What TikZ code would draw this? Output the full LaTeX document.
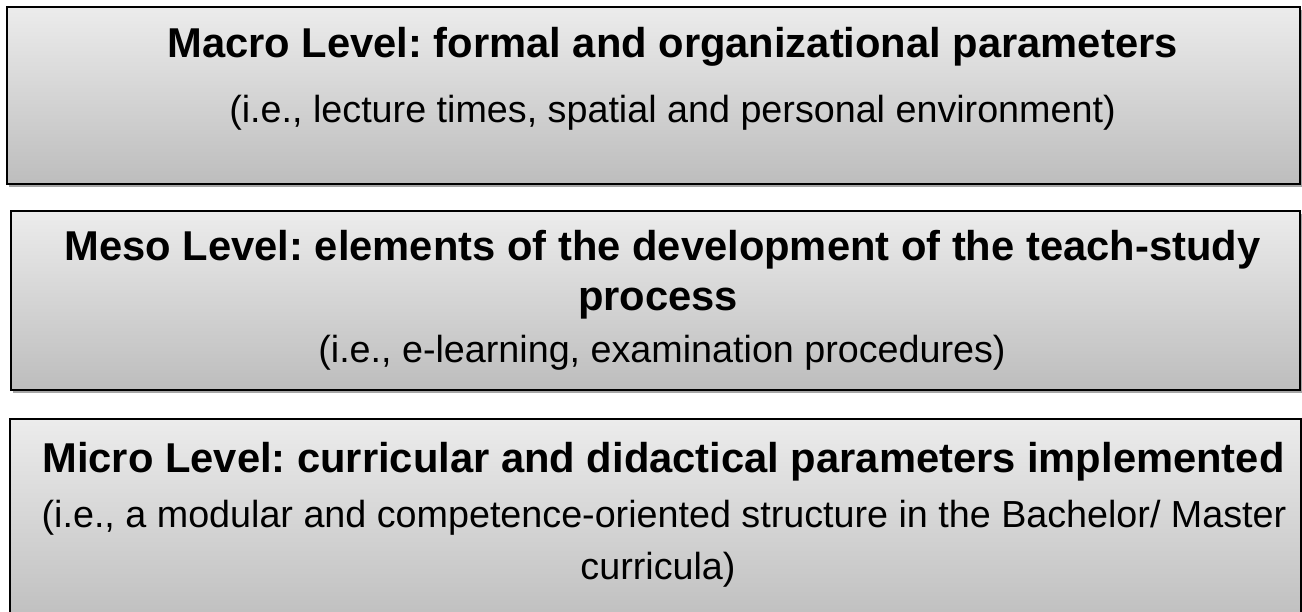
\documentclass[tikz,border=0pt]{standalone}
\usepackage{fontspec}
\setmainfont{Liberation Sans}
\usetikzlibrary{shadows}
\definecolor{boxtop}{HTML}{ECECEC}
\definecolor{boxbot}{HTML}{BDBDBD}
\tikzset{
  levelbox/.style={draw=black, line width=1.6pt, rectangle, inner sep=0pt,
    top color=boxtop, bottom color=boxbot,
    drop shadow={shadow xshift=2pt, shadow yshift=-3pt, opacity=0.35, fill=black}},
  ttl/.style={anchor=base, inner sep=0pt, font=\fontsize{41.7}{48}\selectfont\bfseries},
  sub/.style={anchor=base, inner sep=0pt, font=\fontsize{37.7}{44}\selectfont},
}
\frenchspacing
\begin{document}
\frenchspacing
\begin{tikzpicture}[x=1pt,y=-1pt]
\clip (0,0) rectangle (1302,612);
\fill[white] (0,0) rectangle (1302,612);
\node[levelbox, minimum width=1293pt, minimum height=177pt] (macro) at (653.5,95.5) {};
\node[levelbox, minimum width=1289pt, minimum height=179pt] (meso) at (655.5,300.5) {};
\node[levelbox, minimum width=1291pt, minimum height=210pt] (micro) at (655.5,524) {};
\node[ttl] (t1) at (672.5,58) {Macro Level: formal and organizational parameters};
\node[sub] (s1) at (672.5,123) {(i.e., lecture times, spatial and personal environment)};
\node[ttl] (t2a) at (662.5,261) {Meso Level: elements of the development of the teach-study};
\node[ttl] (t2b) at (658,311) {process};
\node[sub] (s2) at (662,363) {(i.e., e-learning, examination procedures)};
\node[ttl] (t3) at (663.5,472) {Micro Level: curricular and didactical parameters implemented};
\node[sub] (s3a) at (664,527) {(i.e., a modular and competence-oriented structure in the Bachelor/ Master};
\node[sub] (s3b) at (658,579) {curricula)};
\end{tikzpicture}
\end{document}
